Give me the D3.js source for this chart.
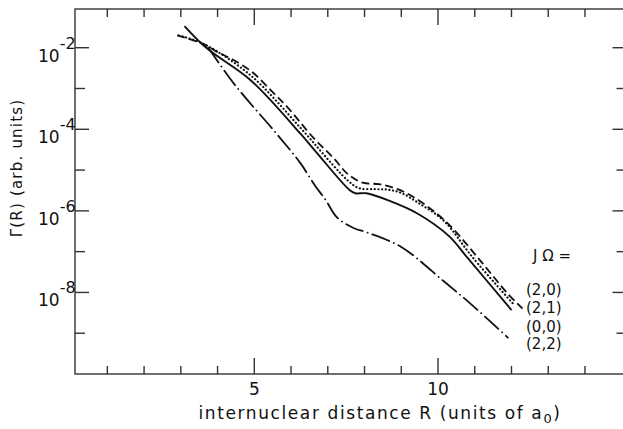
<!DOCTYPE html>
<html>
<head>
<meta charset="utf-8">
<script src="https://cdn.jsdelivr.net/npm/d3@7"></script>
<style>
  body { margin: 0; background: #fff; }
  svg text { font-family: "DejaVu Sans", sans-serif; fill: #111; }
</style>
</head>
<body>
<div id="chart"></div>
<script>
const W = 623
const H = 429

// R in units of a0, Gamma(R) in arb. units
const R_20  = [2.9, 3.65, 4.0, 4.4, 4.95, 5.5, 5.9, 6.6, 7.15, 7.55, 7.95, 8.4, 8.9, 9.4, 10.25, 11.15, 11.9, 12.3]
const G_20  = [2.0e-2, 1.2e-2, 7.8e-3, 5.2e-3, 2.5e-3, 8.1e-4, 3.5e-4, 6.3e-5, 2.0e-5, 7.9e-6, 4.9e-6, 4.5e-6, 3.4e-6, 2.0e-6, 5.1e-7, 6.0e-8, 9.3e-9, 4.0e-9]

const R_21  = [2.95, 3.65, 4.9, 6.25, 7.15, 7.55, 7.85, 8.3, 8.65, 9.0, 9.45, 10.15, 10.95, 12.05]
const G_21  = [2.0e-2, 1.2e-2, 2.1e-3, 1.1e-4, 1.3e-5, 5.5e-6, 3.6e-6, 3.4e-6, 3.3e-6, 2.75e-6, 1.6e-6, 5.8e-7, 7.1e-8, 5.2e-9]

const R_00  = [3.1, 3.7, 4.9, 6.25, 6.65, 7.6, 7.75, 8.05, 8.65, 9.45, 10.3, 10.8, 12.0]
const G_00  = [3.4e-2, 9.8e-3, 1.6e-3, 7.9e-5, 3.0e-5, 3.2e-6, 2.7e-6, 2.7e-6, 1.8e-6, 8.5e-7, 2.4e-7, 7.1e-8, 3.7e-9]

const R_22  = [3.75, 4.45, 5.6, 6.25, 6.65, 6.95, 7.25, 7.7, 8.05, 9.0, 10.15, 10.95, 11.9]
const G_22  = [1.0e-2, 1.3e-3, 7.9e-5, 1.5e-5, 4.2e-6, 1.8e-6, 6.9e-7, 3.8e-7, 3.0e-7, 1.3e-7, 1.9e-8, 4.7e-9, 7.8e-10]

const xMinor  = [1, 2, 3, 4, 6, 7, 8, 9, 11, 12, 13, 14]
const xMajor  = [5, 10]
const yMajor  = [1e-2, 1e-4, 1e-6, 1e-8]
const yMinor  = [1e-3, 1e-5, 1e-7, 1e-9]
const yLabels = ['-2', '-4', '-6', '-8']

const legend = ['(2,0)', '(2,1)', '(0,0)', '(2,2)']

const svg = d3.select('#chart').append('svg')
    .attr('width', W)
    .attr('height', H)

const x = d3.scaleLinear().domain([0.12, 15.13]).range([75, 626.5])
const y = d3.scaleLog().domain([1e-10, 8.9e-2]).range([374, 9])

const frame = svg.append('g').attr('stroke', '#333').attr('stroke-width', 1.4).attr('fill', 'none')

frame.append('rect')
    .attr('x', x.range()[0])
    .attr('y', y.range()[1])
    .attr('width', x.range()[1] - x.range()[0])
    .attr('height', y.range()[0] - y.range()[1])

// ticks on all four sides, pointing inward
const xt = (vals, len) => {
    vals.forEach(v => {
        frame.append('line').attr('x1', x(v)).attr('x2', x(v)).attr('y1', y.range()[0]).attr('y2', y.range()[0] - len)
        frame.append('line').attr('x1', x(v)).attr('x2', x(v)).attr('y1', y.range()[1]).attr('y2', y.range()[1] + len)
    })
}
xt(xMinor, 8)
xt(xMajor, 16)

const yt = (vals, len) => {
    vals.forEach(v => {
        frame.append('line').attr('x1', x.range()[0]).attr('x2', x.range()[0] + len).attr('y1', y(v)).attr('y2', y(v))
        frame.append('line').attr('x1', x.range()[1]).attr('x2', x.range()[1] - len).attr('y1', y(v)).attr('y2', y(v))
    })
}
yt(yMinor, 10)
yt(yMajor, 14)

svg.selectAll('.xlab').data(xMajor).enter().append('text')
    .attr('x', d => x(d))
    .attr('y', 395)
    .attr('text-anchor', 'middle')
    .attr('font-size', 17)
    .text(d => d)

yMajor.forEach((v, i) => {
    const t = svg.append('text')
        .attr('x', 38)
        .attr('y', y(v) + 14)
        .attr('font-size', 17)
    t.append('tspan').text('10')
    t.append('tspan').attr('dy', -13).attr('font-size', 16).text(yLabels[i])
})

// axis titles
svg.append('text')
    .attr('transform', 'translate(22,168) rotate(-90)')
    .attr('text-anchor', 'middle')
    .attr('font-size', 15)
    .attr('letter-spacing', 1.2)
    .text('Γ(R) (arb. units)')

const xt2 = svg.append('text')
    .attr('x', 380)
    .attr('y', 419)
    .attr('text-anchor', 'middle')
    .attr('font-size', 17)
    .attr('letter-spacing', 1.6)
xt2.append('tspan').text('internuclear distance R (units of a')
xt2.append('tspan').attr('dy', 4).attr('font-size', 13).text('0')
xt2.append('tspan').attr('dy', -4).text(')')

// curves
const line = d3.line()
    .x(d => x(d[0]))
    .y(d => y(d[1]))
    .curve(d3.curveCatmullRom.alpha(0.5))

const series = [
    { r: R_20, g: G_20, dash: '8,4', cap: 'butt', w: 1.8 },
    { r: R_21, g: G_21, dash: '0.1,3.6', cap: 'round', w: 2.2 },
    { r: R_00, g: G_00, dash: null, cap: 'butt', w: 1.9 },
    { r: R_22, g: G_22, dash: '18,5,0.1,5', cap: 'round', w: 1.8 }
]

series.forEach(s => {
    svg.append('path')
        .attr('d', line(s.r.map((r, i) => [r, s.g[i]])))
        .attr('fill', 'none')
        .attr('stroke', '#111')
        .attr('stroke-width', s.w)
        .attr('stroke-linecap', s.cap)
        .attr('stroke-dasharray', s.dash)
})

// legend
svg.append('text')
    .attr('x', 533)
    .attr('y', 261)
    .attr('font-size', 15)
    .text('J Ω =')

svg.selectAll('.leg').data(legend).enter().append('text')
    .attr('x', 526)
    .attr('y', (d, i) => [295, 313, 332, 349][i])
    .attr('font-size', 15)
    .text(d => d)
</script>
</body>
</html>
